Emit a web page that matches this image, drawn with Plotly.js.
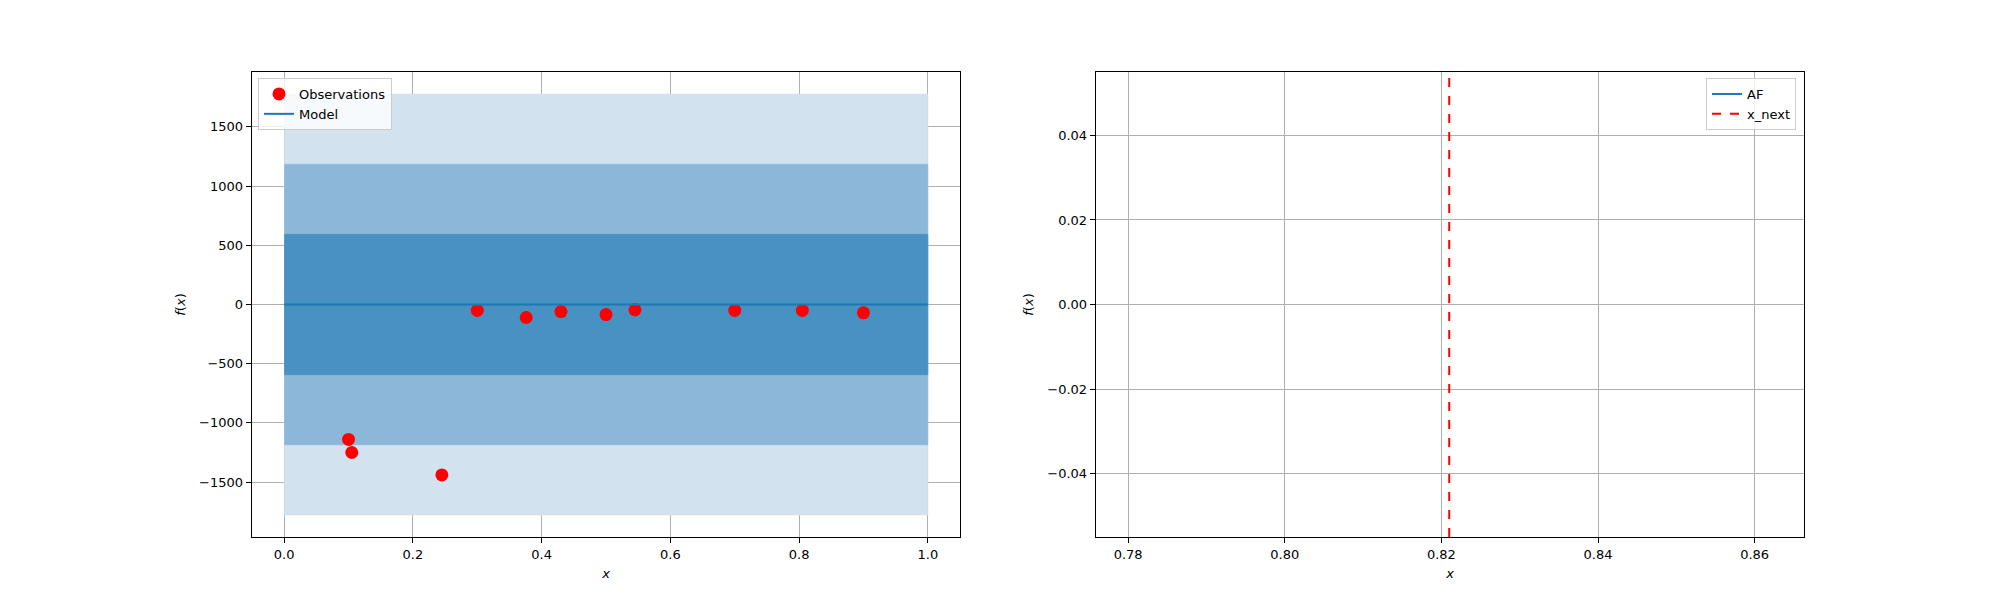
<!DOCTYPE html>
<html>
<head>
<meta charset="utf-8">
<script src="https://cdn.plot.ly/plotly-3.0.1.min.js"></script>
<style>html,body{margin:0;padding:0;background:#fff}#chart{width:2000px;height:600px}</style>
</head>
<body>
<div id="chart"></div>
<script>
// ===== Data =====
const obsX = [0.1, 0.105, 0.245, 0.3, 0.376, 0.43, 0.5, 0.545, 0.7, 0.805, 0.9];
const obsY = [-1140, -1250, -1440, -50, -110, -60, -85, -45, -50, -50, -70];
const modelX = [0, 1];
const modelY = [0, 0];
const bandHalfWidths = [1778, 1185, 593];   // 3, 2, 1 sigma
const bandColors = ['#d2e3ef', '#8cb7d8', '#4891c3'];
const xNext = 0.821;

const traces = [];
bandHalfWidths.forEach((h, i) => {
  traces.push({
    x: [modelX[0], modelX[1], modelX[1], modelX[0]],
    y: [modelY[0] - h, modelY[1] - h, modelY[1] + h, modelY[0] + h],
    type: 'scatter', mode: 'lines', fill: 'toself',
    fillcolor: bandColors[i], line: { width: 0.6, color: bandColors[i] },
    showlegend: false, hoverinfo: 'skip', xaxis: 'x', yaxis: 'y',
  });
});
traces.push({
  x: obsX, y: obsY, type: 'scatter', mode: 'markers', name: 'Observations',
  marker: { color: '#ff0000', size: 13 }, xaxis: 'x', yaxis: 'y',
});
traces.push({
  x: modelX, y: modelY, type: 'scatter', mode: 'lines', name: 'Model',
  line: { color: '#1f77b4', width: 2 }, xaxis: 'x', yaxis: 'y',
});
// AF has no finite values to show
traces.push({
  x: [null], y: [null], type: 'scatter', mode: 'lines', name: 'AF',
  line: { color: '#1f77b4', width: 2 }, xaxis: 'x2', yaxis: 'y2', legend: 'legend2',
});
traces.push({
  x: [xNext, xNext], y: [-0.055, 0.055], type: 'scatter', mode: 'lines', name: 'x_next',
  line: { color: '#ff0000', width: 2, dash: 'dash' }, xaxis: 'x2', yaxis: 'y2', legend: 'legend2',
});

const axisBase = {
  showgrid: true, gridcolor: '#b0b0b0', gridwidth: 1, zeroline: false,
  showline: true, linecolor: '#000', linewidth: 1.3, mirror: true,
  ticks: 'outside', ticklen: 5, tickcolor: '#000',
  tickfont: { size: 13, color: '#000' },
};
const legendBase = {
  bgcolor: 'rgba(255,255,255,0.8)', bordercolor: '#cccccc', borderwidth: 1,
  font: { size: 13, color: '#000' },
};

const layout = {
  width: 2000, height: 600,
  paper_bgcolor: '#fff', plot_bgcolor: '#fff',
  font: { family: 'DejaVu Sans', color: '#000' },
  margin: { l: 0, r: 0, t: 0, b: 0 },
  xaxis: { ...axisBase, domain: [0.126, 0.48], range: [-0.05, 1.05], anchor: 'y',
    dtick: 0.2, tickformat: '.1f',
    title: { text: '<i>x</i>', font: { size: 13 }, standoff: 8 } },
  yaxis: { ...axisBase, domain: [0.105, 0.88], range: [-1964, 1964], anchor: 'x',
    tickvals: [-1500, -1000, -500, 0, 500, 1000, 1500],
    ticktext: ['−1500', '−1000', '−500', '0', '500', '1000', '1500'],
    title: { text: '<i>f</i>(<i>x</i>)', font: { size: 13 }, standoff: 10 } },
  xaxis2: { ...axisBase, domain: [0.548, 0.902], range: [0.7759, 0.8663], anchor: 'y2',
    dtick: 0.02, tickformat: '.2f',
    title: { text: '<i>x</i>', font: { size: 13 }, standoff: 8 } },
  yaxis2: { ...axisBase, domain: [0.105, 0.88], range: [-0.055, 0.055], anchor: 'x2',
    tickvals: [-0.04, -0.02, 0, 0.02, 0.04],
    ticktext: ['−0.04', '−0.02', '0.00', '0.02', '0.04'],
    title: { text: '<i>f</i>(<i>x</i>)', font: { size: 13 }, standoff: 10 } },
  legend: { ...legendBase, x: 0.129, y: 0.87, xanchor: 'left', yanchor: 'top', xref: 'paper', yref: 'paper' },
  legend2: { ...legendBase, x: 0.898, y: 0.87, xanchor: 'right', yanchor: 'top', xref: 'paper', yref: 'paper' },
};

Plotly.newPlot('chart', traces, layout, { displayModeBar: false, staticPlot: true });
</script>
</body>
</html>
